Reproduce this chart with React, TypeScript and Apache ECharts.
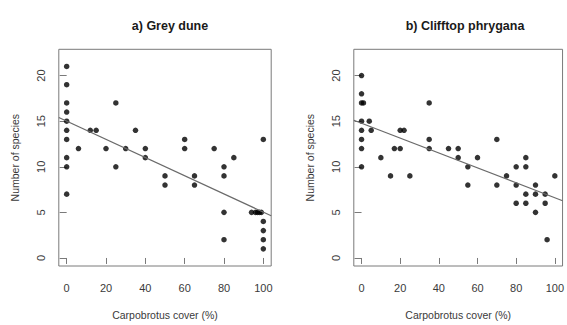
import React, { useEffect, useRef } from "react";
import * as echarts from "echarts";

const xTicks = [0, 20, 40, 60, 80, 100];
const yTicks = [0, 5, 10, 15, 20];

const panelTitles = ["a) Grey dune", "b) Clifftop phrygana"];
const xAxisTitle = "Carpobrotus cover (%)";
const yAxisTitle = "Number of species";

const greyDuneX = [0, 0, 0, 0, 0, 0, 0, 0, 0, 0, 6, 12, 15, 20, 25, 25, 30, 35, 40, 40, 50, 50, 60, 60, 65, 65, 75, 80, 80, 80, 80, 85, 94, 96, 97, 98, 99, 100, 100, 100, 100, 100];
const greyDuneY = [21, 19, 17, 16, 15, 14, 13, 11, 10, 7, 12, 14, 14, 12, 17, 10, 12, 14, 12, 11, 9, 8, 13, 12, 9, 8, 12, 10, 9, 5, 2, 11, 5, 5, 5, 5, 5, 13, 4, 3, 2, 1];
const greyDuneFitX = [-4, 104];
const greyDuneFitY = [15.4, 4.63];

const clifftopX = [0, 0, 0, 1, 0, 0, 0, 0, 0, 4, 5, 10, 15, 17, 20, 20, 22, 25, 35, 35, 35, 45, 50, 50, 55, 55, 60, 70, 70, 75, 80, 80, 80, 85, 85, 85, 85, 90, 90, 90, 95, 95, 96, 100];
const clifftopY = [20, 18, 17, 17, 15, 14, 13, 12, 10, 15, 14, 11, 9, 12, 14, 12, 14, 9, 17, 13, 12, 12, 12, 11, 10, 8, 11, 13, 8, 9, 10, 8, 6, 11, 10, 7, 6, 8, 7, 5, 7, 6, 2, 9];
const clifftopFitX = [-4, 104];
const clifftopFitY = [15.1, 6.28];

const pairs = (xs: number[], ys: number[]) => xs.map((x, i) => [x, ys[i]]);

const FONT = "Liberation Sans, Arial, sans-serif";
const TEXT = "#3a3a3a";
const BOX = "#7a7a7a";

export default function App() {
  const ref = useRef<HTMLDivElement>(null);
  useEffect(() => {
    if (!ref.current) return;
    const chart = echarts.init(ref.current, undefined, { renderer: "svg" });
    const gridLefts = [58.8, 353.8];
    const gridW = 212.4;
    const grids = gridLefts.map((l) => ({
      left: l,
      top: 49.3,
      width: gridW,
      height: 218.4,
      show: true,
      borderColor: BOX,
      borderWidth: 1,
      backgroundColor: "transparent",
      containLabel: false,
    }));
    const xAxes = [0, 1].map((i) => ({
      type: "value",
      gridIndex: i,
      min: -4,
      max: 104,
      splitLine: { show: false },
      axisLine: { show: false },
      axisTick: { show: true, length: 6, inside: false, lineStyle: { color: BOX, width: 1 }, customValues: xTicks },
      axisLabel: { show: true, customValues: xTicks, margin: 16, fontSize: 11, color: TEXT, fontFamily: FONT },
      name: xAxisTitle,
      nameLocation: "middle",
      nameGap: 43,
      nameTextStyle: { fontSize: 10.5, color: TEXT, fontFamily: FONT },
    }));
    const yAxes = [0, 1].map((i) => ({
      type: "value",
      gridIndex: i,
      min: -0.88,
      max: 22.88,
      splitLine: { show: false },
      axisLine: { show: false },
      axisTick: { show: true, length: 7, inside: false, lineStyle: { color: BOX, width: 1 }, customValues: yTicks },
      axisLabel: { show: true, customValues: yTicks, rotate: 90, margin: 12, fontSize: 11, color: TEXT, fontFamily: FONT },
      name: yAxisTitle,
      nameLocation: "middle",
      nameRotate: 90,
      nameGap: 38,
      nameTextStyle: { fontSize: 10.5, color: TEXT, fontFamily: FONT },
    }));
    const scatter = (data: number[][], i: number) => ({
      type: "scatter",
      xAxisIndex: i,
      yAxisIndex: i,
      data,
      symbol: "circle",
      symbolSize: 5.5,
      itemStyle: { color: "#000" },
      silent: true,
    });
    const fit = (data: number[][], i: number) => ({
      type: "line",
      xAxisIndex: i,
      yAxisIndex: i,
      data,
      symbol: "none",
      lineStyle: { color: "#6a6a6a", width: 1.2 },
      silent: true,
    });
    chart.setOption({
      animation: false,
      title: panelTitles.map((t, i) => ({
        text: t,
        left: gridLefts[i] + gridW / 2,
        top: 14,
        textAlign: "center",
        textStyle: { fontSize: 12.5, fontWeight: "bold", color: "#1a1a1a", fontFamily: FONT },
      })),
      grid: grids,
      xAxis: xAxes,
      yAxis: yAxes,
      series: [
        fit(pairs(greyDuneFitX, greyDuneFitY), 0),
        scatter(pairs(greyDuneX, greyDuneY), 0),
        fit(pairs(clifftopFitX, clifftopFitY), 1),
        scatter(pairs(clifftopX, clifftopY), 1),
      ],
    });
    return () => chart.dispose();
  }, []);
  return (
    <div
      ref={ref}
      style={{ position: "absolute", left: 0, top: 0, width: 567, height: 325, background: "#fff" }}
    />
  );
}
